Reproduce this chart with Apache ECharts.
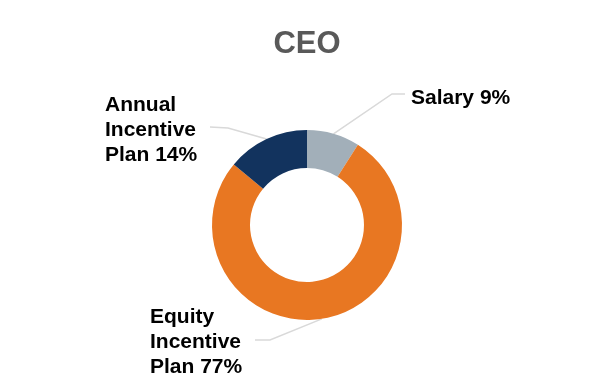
<!DOCTYPE html>
<html>
<head>
<meta charset="utf-8">
<script src="https://cdn.jsdelivr.net/npm/echarts@6/dist/echarts.min.js"></script>
<style>html,body{margin:0;padding:0;background:#fff;}#c{width:614px;height:384px;}</style>
</head>
<body>
<div id="c"></div>
<script>
var titleText = 'CEO';
var categories = ['Salary', 'Equity Incentive Plan', 'Annual Incentive Plan'];
var labelTexts = ['Salary 9%', 'Equity\nIncentive\nPlan 77%', 'Annual\nIncentive\nPlan 14%'];
var values = [9, 77, 14];
var colors = ['#a2afb9', '#e87722', '#12335e'];

// label placement (layout only)
var labelPos = [
  {x: 411, y: 98, bend: [392, 94], end: [405, 94]},
  {x: 150, y: 342, bend: [270, 340], end: [255, 340]},
  {x: 105, y: 130, bend: [228, 128], end: [210, 127]}
];

var data = categories.map(function (c, i) {
  return {name: c, value: values[i], itemStyle: {color: colors[i]},
          label: {formatter: labelTexts[i]}};
});

var chart = echarts.init(document.getElementById('c'), null, {renderer: 'canvas'});
chart.setOption({
  animation: false,
  title: {
    text: titleText, left: 'center', top: 24,
    textStyle: {fontFamily: 'Liberation Sans, Arial, sans-serif', fontSize: 31, fontWeight: 'bold', color: '#595959'}
  },
  series: [{
    type: 'pie',
    center: [307, 225],
    radius: [57, 95],
    startAngle: 90,
    clockwise: true,
    data: data,
    itemStyle: {borderColor: '#fff', borderWidth: 0},
    label: {
      show: true, position: 'outside',
      fontFamily: 'Liberation Sans, Arial, sans-serif', fontSize: 21, fontWeight: 'bold',
      color: '#000', lineHeight: 25, align: 'left'
    },
    labelLine: {show: true, length: 20, length2: 15, lineStyle: {color: '#d9d9d9', width: 1.5}},
    labelLayout: function (params) {
      var p = labelPos[params.dataIndex];
      var anchor = params.labelLinePoints ? params.labelLinePoints[0] : p.bend;
      return {
        x: p.x, y: p.y, align: 'left', verticalAlign: 'middle',
        labelLinePoints: [anchor, p.bend, p.end]
      };
    },
    emphasis: {disabled: true}
  }]
});
</script>
</body>
</html>
